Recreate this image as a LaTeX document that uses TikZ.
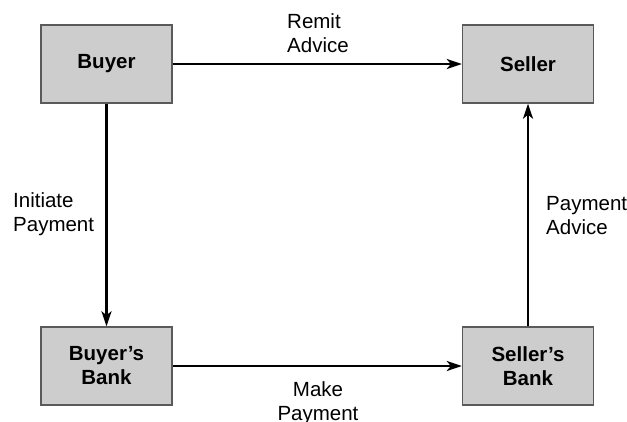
\documentclass[tikz,border=0pt]{standalone}
\usepackage{fontspec}
\setmainfont{Liberation Sans}
\usetikzlibrary{arrows.meta}

\definecolor{boxfill}{HTML}{CDCDCD}
\definecolor{boxline}{HTML}{5A5A5A}

\tikzset{
  party/.style={draw=boxline, line width=1.4pt, fill=boxfill,
    minimum width=131pt, minimum height=78pt, inner sep=0pt,
    align=center, font=\fontsize{20.5}{24}\selectfont\bfseries},
  flow/.style={line width=2.5pt, -{Stealth[length=15pt, width=10pt, inset=4pt]}},
  note/.style={inner sep=0pt, font=\fontsize{20.5}{23.5}\selectfont}
}

\begin{document}
\begin{tikzpicture}[x=1pt, y=-1pt]
  \useasboundingbox (0,0) rectangle (627,421);

  % the four parties
  \node[party] (buyer)  at (106.5, 64)  {Buyer};
  \node[party] (seller) at (528, 64)    {Seller};
  \node[party] (bbank)  at (106.5, 366) {Buyer’s\\Bank};
  \node[party] (sbank)  at (528, 366)   {Seller’s\\Bank};

  % payment flows
  \draw[flow] (buyer.east) -- (seller.west);
  \draw[flow] (buyer.south) -- (bbank.north);
  \draw[flow] (bbank.east) -- (sbank.west);
  \draw[flow] (sbank.north) -- (seller.south);

  % flow labels (anchored on the baseline of their last line)
  \node[note, anchor=base west, align=left] (lremit) at (287, 52) {Remit\\Advice};
  \node[note, anchor=base west, align=left] (linit) at (13, 231) {Initiate\\Payment};
  \node[note, anchor=base west, align=left] (ladvice) at (546, 234) {Payment\\Advice};
  \node[note, anchor=base, align=center] (lmake) at (318, 420) {Make\\Payment};
\end{tikzpicture}
\end{document}
